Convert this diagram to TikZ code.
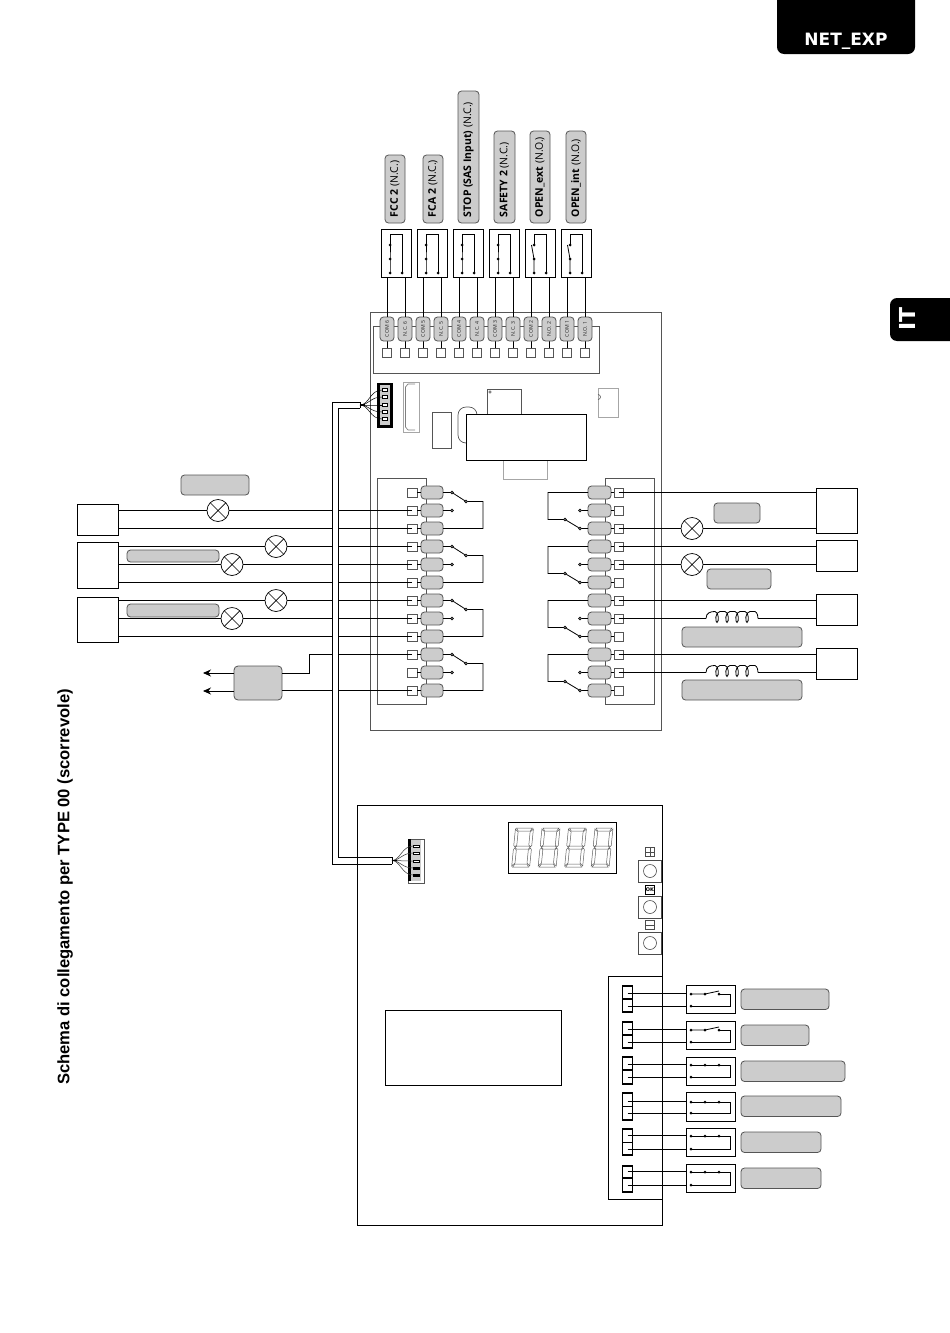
\documentclass[tikz,border=0pt]{standalone}
\usepackage{fontspec}
\setmainfont{Open Sans}
\newfontfamily\djv{DejaVu Sans}
\newfontfamily\lib{Liberation Sans}
\usetikzlibrary{arrows.meta}
\definecolor{pillgray}{HTML}{CCCCCC}
\definecolor{edgegray}{HTML}{555555}
\newcommand{\bx}[6]{\node[#1,minimum width={(#5)-(#3)},minimum height={(#6)-(#4)}] (#2) at ({((#3)+(#5))/2},{((#4)+(#6))/2}) {};}
\tikzset{
  every node/.style={inner sep=0pt,outer sep=0pt},
  wire/.style={line width=0.8pt,black},
  thinbox/.style={draw=edgegray,line width=0.8pt},
  lightbox/.style={draw=gray!70,line width=0.8pt},
  blackbox/.style={draw=black,line width=0.8pt,fill=white},
  pill/.style={draw=edgegray,fill=pillgray,line width=0.8pt,rounded corners=3.5pt},
  termsq/.style={draw=edgegray,fill=white,line width=0.6pt},
  lamp/.style={circle,draw=black,fill=white,line width=0.7pt,minimum size=22pt,
    path picture={\draw[line width=0.7pt] (path picture bounding box.north west)--(path picture bounding box.south east)
      (path picture bounding box.north east)--(path picture bounding box.south west);}},
  dotc/.style={circle,fill=black,minimum size=3pt},
  odot/.style={circle,draw=black,fill=gray,line width=0.5pt,minimum size=3pt},
  vtxt/.style={rotate=90,anchor=west,font=\fontsize{10.5}{10.5}\selectfont},
  tinylab/.style={rotate=90,font=\fontsize{5.2}{5.2}\selectfont,text=black!85},
  seg/.style={draw=gray!75!black,line width=0.5pt},
  keybox/.style={draw=black!70,fill=white,line width=0.6pt},
}
\newcommand{\coil}[2]{%
  \draw[wire] (#1,#2) .. controls (#1,{#2-6}) and ({#1+5},{#2-7}) .. ({#1+9},{#2-7})
   \foreach \k in {0,10,20,30}{
    .. controls ({#1+\k+13},{#2-7}) and ({#1+\k+13},{#2+4}) .. ({#1+\k+11},{#2+4})
    .. controls ({#1+\k+9},{#2+4}) and ({#1+\k+9},{#2-7}) .. ({#1+\k+14},{#2-7})
    .. controls ({#1+\k+15},{#2-7}) and ({#1+\k+18},{#2-7}) .. ({#1+\k+19},{#2-7})
   }
   .. controls ({#1+49},{#2-7}) and ({#1+52},{#2-6}) .. ({#1+52},#2);}
\begin{document}
\begin{tikzpicture}[x=1pt,y=-1pt]
\useasboundingbox (0,0) rectangle (950,1333);
% tabs
\fill[black,rounded corners=7pt] (777,-12) rectangle (915,54);
\node[font=\djv\bfseries\fontsize{17}{17}\selectfont,text=white] (nettxt) at (846,41) {NET\_EXP};
\fill[black,rounded corners=7pt] (890,298) rectangle (965,341);
\node[rotate=90,font=\djv\bfseries\fontsize{22}{22}\selectfont,text=white] (ittxt) at (907,319) {IT};
% title
\node[rotate=90,font=\lib\bfseries\fontsize{16.6}{17}\selectfont] (title) at (65,887) {Schema di collegamento per TYPE 00 (scorrevole)};
% upper board
\bx{thinbox}{board1}{370}{312}{661}{730}
\bx{thinbox}{tblock}{373}{326}{599}{373}
\bx{thinbox}{blockL}{377}{478}{426}{704}
\bx{thinbox}{blockR}{605}{478}{654}{704}
% lower board
\bx{blackbox}{board2}{357}{805}{662}{1225}
\bx{blackbox}{lcd}{508}{822}{616}{873}
\bx{blackbox}{msg}{385}{1010}{561}{1085}
% components
\bx{lightbox}{chip}{403}{382}{419}{432}
\draw[gray,line width=0.7pt] (415,384) -- (408,384) -- (405.5,387) -- (405.5,427) -- (408,430) -- (415,430);
\bx{thinbox}{compA}{432}{412}{451}{448}
\draw[edgegray,line width=0.7pt,rounded corners=8pt] (477,414) -- (477,407) -- (458,407) -- (458,443) -- (470,443);
\bx{thinbox,fill=white}{mcu}{487}{389}{521}{414}
\draw[edgegray,line width=0.5pt] (490,392) circle (1.3);
\bx{lightbox}{compB}{503}{460}{547}{479}
\bx{blackbox}{whiteU}{466}{414}{586}{460}
\bx{lightbox}{compC}{598}{388}{618}{417}
\draw[edgegray,line width=0.6pt] (598,399.5) arc (90:-90:2.5);
% top terminals
\foreach \i/\x/\t in {1/387/COM 6,2/405/N.C. 6,3/423/COM 5,4/441/N.C. 5,5/459/COM 4,6/477/N.C. 4,7/495/COM 3,8/513/N.C. 3,9/531/COM 2,10/549/N.O. 2,11/567/COM 1,12/585/N.O. 1}{
  \bx{termsq}{S\i}{\x-4.5}{348}{\x+4.5}{357}
  \draw[wire] (\x,341) -- (S\i.north);
  \bx{pill}{T\i}{\x-7}{317}{\x+7}{341}
  \node[tinylab] (Tl\i) at (T\i.center) {\t};
}
% top relays
\foreach \i/\x/\a/\b/\no in {1/381/1/2/0,2/417/3/4/0,3/453/5/6/0,4/489/7/8/0,5/525/9/10/1,6/561/11/12/1}{
  \bx{blackbox}{RT\i}{\x}{229}{\x+30}{277}
  \draw[wire] (T\a.north) -- (T\a.north |- RT\i.south);
  \draw[wire] (T\b.north) -- (T\b.north |- RT\i.south);
  \draw[wire] ({\x+21},273) -- ({\x+21},234) -- ({\x+9},234) -- ({\x+9},245);
  \draw[wire] ({\x+9},273) -- ({\x+9},259) -- ({\x+9-2.5*\no},245);
  \foreach \p in {273,259,245}{\node[dotc] (dot\i p\p) at ({\x+9},\p) {};}
  \node[dotc] (dot\i q) at ({\x+21},273) {};
}
% top pills
\bx{pill}{pFCC}{385}{155}{405}{223}
\bx{pill}{pFCA}{423}{155}{443}{223}
\bx{pill}{pSTOP}{458}{91}{479}{223}
\bx{pill}{pSAF}{494}{131}{515}{223}
\bx{pill}{pOE}{530}{131}{550}{223}
\bx{pill}{pOI}{566}{131}{586}{223}
\node[vtxt] (tFCC) at (395,217) {\textbf{FCC 2} (N.C.)};
\node[vtxt] (tFCA) at (433,217) {\textbf{FCA 2} (N.C.)};
\node[vtxt] (tSTOP) at (468.5,217) {\textbf{STOP (SAS Input)} (N.C.)};
\node[vtxt] (tSAF) at (504.5,217) {\textbf{SAFETY 2} (N.C.)};
\node[vtxt] (tOE) at (540,217) {\textbf{OPEN\_ext} (N.O.)};
\node[vtxt] (tOI) at (576,217) {\textbf{OPEN\_int} (N.O.)};
% connector top
\bx{draw=black,fill=black}{con1}{377}{383}{392}{427}
\bx{fill=pillgray}{con1i}{380}{385}{389.5}{425}
\foreach \k/\y in {1/390,2/397,3/405,4/412,5/419}{
  \bx{draw=black,fill=white,line width=0.5pt}{pa\k}{382}{\y-1.5}{387}{\y+1.5}
}
% cables
\coordinate (c1) at (360,405);
\coordinate (c2) at (392,860.5);
\draw[wire] (360,402) -- (332,402) -- (332,864) -- (392,864);
\draw[wire] (360,408) -- (338,408) -- (338,857) -- (392,857);
\draw[wire] (360,402) -- (360,408) (392,857) -- (392,864);
\foreach \k in {1,...,5}{
  \draw[line width=0.5pt,black] (c1) .. controls (369,405) and (pa\k.west -| 370,0) .. (pa\k.west);
}
\draw[line width=1.6pt,black] (c1) -- ++(5,0);
% lower connector
\bx{draw=edgegray,fill=white,line width=0.5pt}{con2}{408}{839}{424}{883}
\bx{fill=pillgray}{con2i}{411}{840}{421}{881}
\fill[black] (408,839) rectangle (411,881);
\foreach \k/\y/\c in {1/846/white,2/853/white,3/861/white,4/868/black,5/875/black}{
  \bx{draw=black,fill=\c,line width=0.5pt}{pb\k}{413}{\y-1}{419}{\y+1}
}
\foreach \k in {1,...,5}{
  \draw[line width=0.5pt,black!80] (c2) .. controls (400,860.5) and (pb\k.west -| 402,0) .. (pb\k.west);
}
\draw[line width=1.6pt,black] (c2) -- ++(5,0);
% rows
\foreach \i/\y in {1/492.5,2/510.5,3/528.5,4/546.5,5/564.5,6/582.5,7/600.5,8/618.5,9/636.5,10/654.5,11/672.5,12/690.5}{
  \bx{termsq}{L\i}{407}{\y-4.5}{417}{\y+4.5}
  \bx{pill}{LP\i}{421}{\y-6.5}{443}{\y+6.5}
  \draw[wire] (L\i.east) -- (LP\i.west);
  \bx{termsq}{R\i}{614}{\y-4.5}{623}{\y+4.5}
  \bx{pill}{RP\i}{588}{\y-6.5}{611}{\y+6.5}
  \draw[wire] (R\i.west) -- (RP\i.east);
}
% left switches
\foreach \a/\b/\c in {1/2/3,4/5/6,7/8/9,10/11/12}{
  \node[odot] (ls\a) at ([xshift=9pt]LP\a.east) {};
  \node[odot] (lt\a) at ([xshift=9pt]LP\b.east) {};
  \node[odot] (lh\a) at ([xshift=23pt,yshift=-9pt]LP\a.east) {};
  \coordinate (lc\a) at ([xshift=40pt,yshift=-9pt]LP\a.east);
  \draw[wire] (LP\a.east) -- (ls\a) -- (lh\a) -- (lc\a) -- (lc\a |- LP\c.east) -- (LP\c.east);
  \draw[wire] (LP\b.east) -- (lt\a);
}
% right switches
\foreach \a/\b/\c in {1/2/3,4/5/6,7/8/9,10/11/12}{
  \node[odot] (rs\a) at ([xshift=-8pt]RP\c.west) {};
  \node[odot] (rt\a) at ([xshift=-8pt]RP\b.west) {};
  \node[odot] (rh\a) at ([xshift=-23pt,yshift=9pt]RP\c.west) {};
  \coordinate (rc\a) at ([xshift=-40pt,yshift=9pt]RP\c.west);
  \draw[wire] (RP\a.west) -- (RP\a.west -| rc\a) -- (rc\a) -- (rh\a) -- (rs\a) -- (RP\c.west);
  \draw[wire] (RP\b.west) -- (rt\a);
}
% left devices
\bx{blackbox}{bL1}{77}{504}{118}{535}
\bx{blackbox}{bL2}{77}{542}{118}{588}
\bx{blackbox}{bL3}{77}{597}{118}{642}
\bx{pill}{plL1}{181}{475}{249}{495}
\bx{pill}{plL2}{127}{550}{219}{562}
\bx{pill}{plL3}{127}{604}{219}{617}
\bx{pill,rounded corners=4pt}{relayL}{234}{666}{282}{700}
\coordinate (cutL) at (332,0);
\coordinate (cutR) at (338,0);
\coordinate (endA) at (203,673);
\coordinate (endB) at (203,691);
\foreach \i in {2,3,4,5,6,7,8,9,10,12}{
  \draw[wire] (L\i.center) -- (L\i.center -| cutR);
}
\foreach \i/\b in {2/bL1,3/bL1,4/bL2,5/bL2,6/bL2,7/bL3,8/bL3,9/bL3}{
  \draw[wire] (L\i.center -| cutL) -- (L\i.center -| \b.east);
}
\foreach \n/\i/\x in {a/2/218,b/4/276,c/5/232,d/7/276,e/8/232}{
  \node[lamp] (lp\n) at (L\i.center -| \x,0) {};
}
\draw[wire] (L10.center -| cutL) -- (309,654.5) -- (309,673) -- (relayL.east |- endA);
\draw[wire] (L12.center -| cutL) -- (L12.center -| relayL.east);
\draw[wire,-{Stealth[length=8pt,width=7pt]}] (relayL.west |- endA) -- (endA);
\draw[wire,-{Stealth[length=8pt,width=7pt]}] (relayL.west |- endB) -- (endB);
% right devices
\bx{blackbox}{bR1}{816}{488}{857}{533}
\bx{blackbox}{bR2}{816}{540}{857}{571}
\bx{blackbox}{bR3}{816}{594}{857}{625}
\bx{blackbox}{bR4}{816}{648}{857}{679}
\bx{pill}{prA}{714}{503}{760}{523}
\bx{pill}{prB}{707}{569}{771}{589}
\bx{pill}{prC}{682}{627}{802}{647}
\bx{pill}{prD}{682}{680}{802}{700}
\foreach \i/\b in {1/bR1,3/bR1,4/bR2,5/bR2,7/bR3,8/bR3,10/bR4,11/bR4}{
  \draw[wire] (R\i.center) -- (R\i.center -| \b.west);
}
\foreach \n/\i in {f/3,g/5}{
  \node[lamp] (lp\n) at (R\i.center -| 692,0) {};
}
\foreach \i/\y in {8/618.5,11/672.5}{
  \fill[white] (706,{\y-1}) rectangle (758,{\y+1});
  \coil{706}{\y}
}
% display digits
\foreach \d/\x in {0/515.5,1/542,2/568.5,3/595}{
 \begin{scope}[shift={(\x,828)},xslant=0.1]
  \draw[seg] (1,0)--(17,0)--(15,3)--(3,3)--cycle;
  \draw[seg] (1,39)--(17,39)--(15,36)--(3,36)--cycle;
  \draw[seg] (1.5,19.5)--(3,18)--(15,18)--(16.5,19.5)--(15,21)--(3,21)--cycle;
  \draw[seg] (0,1)--(3,4)--(3,17)--(1.2,18.8)--(0,17.5)--cycle;
  \draw[seg] (18,1)--(15,4)--(15,17)--(16.8,18.8)--(18,17.5)--cycle;
  \draw[seg] (0,38)--(3,35)--(3,22)--(1.2,20.2)--(0,21.5)--cycle;
  \draw[seg] (18,38)--(15,35)--(15,22)--(16.8,20.2)--(18,21.5)--cycle;
 \end{scope}
}
% keys
\foreach \k/\y in {1/871,2/907,3/943}{
  \bx{keybox}{key\k}{638.5}{\y-11}{661.5}{\y+11}
  \node[circle,draw=black!70,line width=0.6pt,minimum size=13pt] (knob\k) at (650,\y) {};
}
\bx{keybox}{icoP}{645.5}{847.5}{654.5}{856.5}
\draw[line width=0.5pt,black!70] (icoP.north) -- (icoP.south) (icoP.west) -- (icoP.east);
\node[draw=black,line width=0.7pt,fill=white,minimum width=9pt,minimum height=9pt,font=\djv\bfseries\fontsize{5}{5}\selectfont] (icoO) at (650,890) {OK};
\bx{keybox}{icoM}{645.5}{920.5}{654.5}{929.5}
\draw[line width=0.5pt,black!70] (icoM.west) -- (icoM.east);
% input block
\draw[line width=0.8pt,black] (662,976) -- (608,976) -- (608,1199) -- (662,1199);
\foreach \i/\ya/\yb/\yc/\yd/\ye/\yt/\yu/\xe/\op in {%
 1/986/999/1012/985/1013/993/1006/829/1,
 2/1022/1035/1048/1021/1049/1029/1042/809/1,
 3/1057/1070/1084/1057/1085/1064/1077/845/0,
 4/1093/1106.5/1120/1092/1121/1101/1113/841/0,
 5/1129/1142.5/1155/1128/1156/1135/1149/821/0,
 6/1166/1178/1192/1164/1192/1171/1185/821/0}{
  \bx{draw=black,fill=white,line width=1.8pt}{ta\i}{622.5}{\ya}{632.5}{\yb}
  \bx{draw=black,fill=white,line width=1.8pt}{tb\i}{622.5}{\yb}{632.5}{\yc}
  \bx{blackbox}{kb\i}{686}{\yd}{735}{\ye}
  \draw[wire] (ta\i.center |- 0,\yt) -- (kb\i.west |- 0,\yt);
  \draw[wire] (tb\i.center |- 0,\yu) -- (kb\i.west |- 0,\yu);
  \draw[wire] (691,\yu) -- (730,\yu) -- (730,{\yt+1}) -- (719,{\yt+1});
  \draw[wire] (691,{\yt+1}) -- (705,{\yt+1}) -- (719,{\yt+1-3*\op});
  \foreach \p in {691,705,719}{\node[dotc] (k\i x\p) at (\p,{\yt+1}) {};}
  \node[dotc] (k\i y) at (691,\yu) {};
  \bx{pill}{kp\i}{741}{\yd+4}{\xe}{\yd+24.5}
}
\end{tikzpicture}
\end{document}
